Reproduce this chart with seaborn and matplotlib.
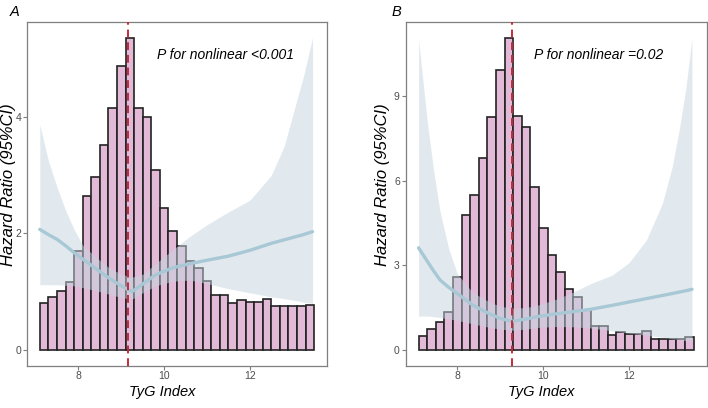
import numpy as np
import pandas as pd
import matplotlib
matplotlib.use("Agg")
import matplotlib.pyplot as plt
import seaborn as sns

# ---------------- DATA ---------------- #

# histogram bar heights (drawn on the HR scale), 32 bins from 7.1 to 13.5
hist_a = [0.80, 0.91, 1.01, 1.16, 1.69, 2.65, 2.96, 3.52, 4.15, 4.87, 5.36,
          4.16, 3.99, 3.08, 2.43, 2.05, 1.78, 1.52, 1.40, 1.19, 0.95, 0.95,
          0.81, 0.85, 0.83, 0.83, 0.87, 0.75, 0.75, 0.75, 0.75, 0.78]
hist_b = [0.49, 0.75, 1.00, 1.34, 2.60, 4.79, 5.51, 6.81, 8.25, 9.93, 11.05,
          8.28, 7.91, 5.76, 4.32, 3.38, 2.78, 2.16, 1.89, 1.40, 0.84, 0.84,
          0.53, 0.62, 0.58, 0.58, 0.66, 0.40, 0.40, 0.40, 0.40, 0.46]

# restricted cubic spline: TyG index, HR, lower and upper 95% CI
tyg_a = [7.1, 7.3, 7.5, 7.7, 7.9, 8.1, 8.4, 8.7, 9.0, 9.25, 9.5, 9.8, 10.2,
         10.6, 11.0, 11.5, 12.0, 12.5, 12.8, 13.05, 13.25, 13.46]
hr_a = [2.07, 1.98, 1.90, 1.79, 1.67, 1.56, 1.40, 1.24, 1.10, 1.00, 1.13,
        1.29, 1.41, 1.48, 1.54, 1.61, 1.71, 1.83, 1.89, 1.94, 1.98, 2.03]
lo_a = [1.12, 1.12, 1.12, 1.11, 1.10, 1.07, 1.02, 0.96, 0.90, 0.87, 0.98,
        1.10, 1.18, 1.20, 1.14, 1.05, 0.98, 0.91, 0.88, 0.85, 0.82, 0.80]
hi_a = [3.87, 3.25, 2.80, 2.40, 2.07, 1.80, 1.60, 1.42, 1.30, 1.25, 1.30,
        1.48, 1.72, 1.95, 2.15, 2.37, 2.57, 3.00, 3.50, 4.17, 4.70, 5.36]

tyg_b = [7.1, 7.3, 7.45, 7.6, 7.8, 8.0, 8.35, 8.75, 9.0, 9.27, 9.6, 9.9, 10.3,
         10.7, 11.1, 11.6, 12.0, 12.4, 12.77, 13.0, 13.16, 13.32, 13.46]
hr_b = [3.62, 3.15, 2.80, 2.48, 2.22, 2.00, 1.60, 1.28, 1.12, 1.01, 1.10,
        1.19, 1.28, 1.36, 1.44, 1.58, 1.70, 1.82, 1.93, 2.00, 2.05, 2.10, 2.15]
lo_b = [1.20, 1.20, 1.18, 1.15, 1.10, 1.05, 0.93, 0.80, 0.74, 0.70, 0.74,
        0.80, 0.83, 0.82, 0.78, 0.68, 0.60, 0.52, 0.45, 0.40, 0.37, 0.33, 0.30]
hi_b = [11.0, 8.13, 6.36, 4.90, 3.60, 2.70, 2.05, 1.70, 1.55, 1.48, 1.50,
        1.60, 1.80, 2.05, 2.35, 2.65, 3.10, 3.90, 5.19, 6.50, 7.78, 9.30, 11.07]

ref_a = 9.15
ref_b = 9.28
p_text = ["P for nonlinear <0.001", "P for nonlinear =0.02"]
panel_labels = ["A", "B"]
yticks = [[0, 2, 4], [0, 3, 6, 9]]
xticks = [8, 10, 12]

# ---------------- STYLE ---------------- #

sns.set_theme(style="white")
plt.rcParams["font.family"] = ["Liberation Sans", "DejaVu Sans"]

BAR_FILL = "#E3B9D8"
BAND = "#C5D5DE"
LINE = "#A8C8D5"
RED = "#C8283C"
GREY = "#7F7F7F"

BIN_START, BIN_END, BIN_W = 7.1, 13.5, 0.2
bin_mid = np.arange(len(hist_a)) * BIN_W + BIN_START + BIN_W / 2

fig = plt.figure(figsize=(7.08, 4.08), dpi=100)
ax_a = fig.add_axes([0.038, 0.104, 0.424, 0.842])
ax_b = fig.add_axes([0.573, 0.104, 0.425, 0.842])

panels = [
    (ax_a, hist_a, tyg_a, hr_a, lo_a, hi_a, ref_a),
    (ax_b, hist_b, tyg_b, hr_b, lo_b, hi_b, ref_b),
]
# per-panel text placement (axes fractions)
p_x = [0.663, 0.641]
letter_x = [-0.04, -0.032]
ylab_x = [-0.037, -0.052]

for i, (ax, hist, tyg, hr, lo, hi, ref) in enumerate(panels):
    hist_df = pd.DataFrame({"tyg": bin_mid, "height": hist})
    sns.histplot(data=hist_df, x="tyg", weights="height", binwidth=BIN_W,
                 binrange=(BIN_START, BIN_END), ax=ax,
                 color=BAR_FILL, alpha=1, edgecolor="#222222", linewidth=1.2,
                 zorder=1)
    ax.fill_between(tyg, lo, hi, color=BAND, alpha=0.5, linewidth=0, zorder=2)
    sns.lineplot(x=tyg, y=hr, ax=ax, color=LINE, linewidth=2.4, zorder=3)
    ax.axvline(ref, color=RED, linestyle=(0, (4, 2.5)), linewidth=1.4, zorder=4)

    ymax = max(max(hist), max(hi))
    ax.set_xlim(6.8, 13.8)
    ax.set_ylim(-0.05 * ymax, 1.05 * ymax)
    ax.set_xticks(xticks)
    ax.set_yticks(yticks[i])

    ax.set_xlabel("TyG Index", fontsize=10.5, style="italic", color="black")
    ax.set_ylabel("Hazard Ratio (95%CI)", fontsize=12, style="italic",
                  color="black")
    ax.xaxis.set_label_coords(0.45, -0.058)
    ax.yaxis.set_label_coords(ylab_x[i], 0.526)
    ax.tick_params(axis="both", which="both", length=3, width=0.8, color=GREY,
                   labelsize=7.5, labelcolor="#4D4D4D", pad=1.2,
                   bottom=True, left=True)
    for sp in ax.spines.values():
        sp.set_color(GREY)
        sp.set_linewidth(0.9)

    ax.text(p_x[i], 0.905, p_text[i], transform=ax.transAxes, fontsize=10,
            style="italic", ha="center", va="center", color="black")
    ax.text(letter_x[i], 1.018, panel_labels[i], transform=ax.transAxes,
            fontsize=10.5, style="italic", ha="center", va="baseline",
            color="black")

fig.savefig("out.png", dpi=100)
